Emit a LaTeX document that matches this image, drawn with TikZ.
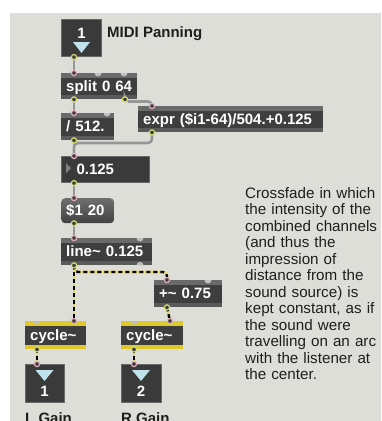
\documentclass[tikz,border=0pt]{standalone}
\usepackage{fontspec}
\setmainfont{Liberation Sans}
\usetikzlibrary{calc}

\definecolor{bg}{RGB}{222,222,217}
\definecolor{objbody}{RGB}{62,62,62}
\definecolor{striptop}{RGB}{106,106,106}
\definecolor{stripbot}{RGB}{90,90,90}
\definecolor{numbody}{RGB}{58,58,58}
\definecolor{numedge}{RGB}{104,104,104}
\definecolor{tricol}{RGB}{192,226,236}
\definecolor{cordcol}{RGB}{150,150,150}
\definecolor{sigyel}{RGB}{224,216,112}
\definecolor{cycyel}{RGB}{222,200,42}
\definecolor{inpink}{RGB}{226,176,192}
\definecolor{outgrn}{RGB}{212,222,112}
\definecolor{bumpcol}{RGB}{192,192,192}
\definecolor{msgtop}{RGB}{110,110,110}
\definecolor{msgbot}{RGB}{66,66,66}
\definecolor{labcol}{RGB}{30,30,30}

\newcommand{\objfont}{\fontsize{15}{17}\selectfont\bfseries}
\newcommand{\cmtfont}{\fontsize{15.2}{16.5}\selectfont}

\tikzset{
  objg/.style={fill=objbody, text=white, font=\objfont, anchor=north west,
    inner xsep=5pt, inner ysep=0pt, align=left, text height=12pt, text depth=2pt,
    path picture={
      \fill[striptop] (path picture bounding box.north west) rectangle ([yshift=-4.5pt]path picture bounding box.north east);
      \fill[stripbot] (path picture bounding box.south west) rectangle ([yshift=4pt]path picture bounding box.south east);}},
  objy/.style={fill=objbody, text=white, font=\objfont, anchor=north west,
    inner xsep=5pt, inner ysep=0pt, align=left, text height=12pt, text depth=2pt,
    path picture={
      \fill[cycyel] (path picture bounding box.north west) rectangle ([yshift=-4.5pt]path picture bounding box.north east);
      \fill[cycyel] (path picture bounding box.south west) rectangle ([yshift=4.5pt]path picture bounding box.south east);}},
  numbox/.style={fill=numbody, draw=numedge, line width=1.1pt, anchor=north west, inner sep=0pt},
  flobox/.style={fill=numbody, draw=numedge, line width=1.1pt, anchor=north west, text=white,
    font=\objfont, inner xsep=5pt, inner ysep=0pt, align=left, text height=12pt, text depth=2pt},
  msgbox/.style={rounded corners=4pt, top color=msgtop, bottom color=msgbot, text=white,
    font=\objfont, anchor=north west, inner xsep=5pt, inner ysep=0pt, align=left,
    text height=12pt, text depth=2pt},
  digit/.style={text=white, font=\objfont, inner sep=0pt},
  tri/.style={fill=tricol},
  lab/.style={text=labcol, font=\objfont, inner sep=0pt, anchor=base west},
  cmt/.style={text=labcol, font=\cmtfont, inner sep=0pt, anchor=north west, align=left, text width=134pt},
  cord/.style={draw=cordcol, line width=2.6pt, rounded corners=4pt},
  sig/.style={draw=black, line width=2.4pt, dash pattern=on 4pt off 3pt, rounded corners=4pt,
    preaction={draw=sigyel, line width=2.8pt, solid}},
  inring/.style={fill=objbody, draw=inpink, line width=1.2pt},
  outring/.style={fill=objbody, draw=outgrn, line width=1.2pt},
  bump/.style={fill=bumpcol}
}

\begin{document}
\begin{tikzpicture}[x=1pt,y=1pt]
\useasboundingbox (0,0) rectangle (381,-421);
\fill[white] (0,0) rectangle (381,-421);
\fill[bg] (10,-12.7) rectangle (381,-421);

% ---- boxes ----
\node[numbox, minimum width=40pt, minimum height=37pt] (numTop) at (61,-19) {};
\node[digit] (numTopv) at (81.5,-33) {1};
\fill[tri] (73,-42) -- (90,-42) -- (81.5,-53) -- cycle;

\node[lab] (title) at (107,-37.7) {MIDI Panning};

\node[objg, text width=66pt, minimum height=26pt] (split) at (61,-73) {split 0 64};
\node[objg, text width=43pt, minimum height=27pt] (div) at (61,-113) {/ 512.};
\node[objg, text width=175pt, minimum height=26pt] (expr) at (138,-106) {expr (\$i1-64)/504.+0.125};
\node[flobox, text width=78pt, minimum height=26pt] (flo) at (61,-156) {\hspace*{10pt}0.125};
\fill[gray] (66,-163) -- (66,-173) -- (71,-168) -- cycle;
\node[msgbox, text width=43pt, minimum height=25pt] (msg) at (61,-198) {\$1 20};
\node[objg, text width=81pt, minimum height=27pt] (line) at (61,-238) {line\textasciitilde{} 0.125};
\node[objg, text width=58pt, minimum height=27pt] (plus) at (154,-280) {+\textasciitilde{} 0.75};
\node[objy, text width=51pt, minimum height=28pt] (cycL) at (25,-321) {cycle\textasciitilde};
\node[objy, text width=52pt, minimum height=28pt] (cycR) at (121,-321) {cycle\textasciitilde};

\node[numbox, minimum width=39pt, minimum height=38pt] (numL) at (25,-364) {};
\fill[tri] (35.5,-370) -- (53.5,-370) -- (44.5,-381) -- cycle;
\node[digit] (numLv) at (44.5,-391) {1};
\node[numbox, minimum width=40pt, minimum height=38pt] (numR) at (121,-364) {};
\fill[tri] (132,-370) -- (150,-370) -- (141,-381) -- cycle;
\node[digit] (numRv) at (141,-391) {2};

\node[lab] (lgain) at (25,-423) {L Gain};
\node[lab] (rgain) at (121,-423) {R Gain};

\node[cmt] (comment) at (245,-187) {Crossfade in which\\the intensity of the\\combined channels\\(and thus the\\impression of\\distance from the\\sound source) is\\kept constant, as if\\the sound were\\travelling on an arc\\with the listener at\\the center.};

% ---- inlets / outlets ----
\coordinate (numTop-o0) at ($(numTop.south west)+(13,0)$);
\coordinate (split-i0) at ($(split.north west)+(13,0)$);
\coordinate (split-i1) at ($(split.north west)+(37,0)$);
\coordinate (split-i2) at ($(split.north west)+(63,0)$);
\coordinate (split-o0) at ($(split.south west)+(13,0)$);
\coordinate (split-o1) at ($(split.south west)+(64,0)$);
\coordinate (div-i0) at ($(div.north west)+(13,0)$);
\coordinate (div-i1) at ($(div.north west)+(46,0)$);
\coordinate (div-o0) at ($(div.south west)+(13,0)$);
\coordinate (expr-i0) at ($(expr.north west)+(14,0)$);
\coordinate (expr-o0) at ($(expr.south west)+(14,0)$);
\coordinate (flo-i0) at ($(flo.north west)+(13,0)$);
\coordinate (flo-o0) at ($(flo.south west)+(13,0)$);
\coordinate (msg-i0) at ($(msg.north west)+(13,0)$);
\coordinate (msg-o0) at ($(msg.south west)+(13,0)$);
\coordinate (line-i0) at ($(line.north west)+(13,0)$);
\coordinate (line-i1) at ($(line.north west)+(79,0)$);
\coordinate (line-o0) at ($(line.south west)+(13,0)$);
\coordinate (line-o1) at ($(line.south west)+(79,0)$);
\coordinate (plus-i0) at ($(plus.north west)+(13,0)$);
\coordinate (plus-i1) at ($(plus.north west)+(54,0)$);
\coordinate (plus-o0) at ($(plus.south west)+(13,0)$);
\coordinate (cycL-i0) at ($(cycL.north west)+(12,0)$);
\coordinate (cycL-i1) at ($(cycL.north west)+(49,0)$);
\coordinate (cycL-o0) at ($(cycL.south west)+(12,0)$);
\coordinate (cycR-i0) at ($(cycR.north west)+(13,0)$);
\coordinate (cycR-i1) at ($(cycR.north west)+(49,0)$);
\coordinate (cycR-o0) at ($(cycR.south west)+(13,0)$);
\coordinate (numL-i0) at ($(numL.north west)+(12,0)$);
\coordinate (numR-i0) at ($(numR.north west)+(13,0)$);

% unconnected inlets / outlets
\foreach \p in {split-i1,split-i2,div-i1,line-i1,plus-i1,cycL-i0,cycR-i0}
  \fill[bump] ([xshift=-3.5pt]\p) arc[start angle=180,end angle=360,radius=3.5pt] -- cycle;
\foreach \p in {line-o1}
  \fill[bump] ([xshift=-3.5pt]\p) arc[start angle=180,end angle=0,radius=3.5pt] -- cycle;

% ---- control cords ----
\draw[cord] (numTop-o0) -- (split-i0);
\draw[cord] (split-o0) -- (div-i0);
\draw[cord] (split-o1) |- ($(expr-i0)+(0,4.5)$) -- (expr-i0);
\draw[cord] (div-o0) -- (flo-i0);
\draw[cord] (expr-o0) |- ($(flo-i0)+(0,13)$) -- (flo-i0);
\draw[cord] (flo-o0) -- (msg-i0);
\draw[cord] (msg-o0) -- (line-i0);

% ---- signal cords ----
\draw[sig] (line-o0) -- (cycL-i1);
\draw[sig] (line-o0) |- ($(plus-i0)+(0,8)$) -- (plus-i0);
\draw[sig] (plus-o0) -- (cycR-i1);
\draw[sig] (cycL-o0) -- (numL-i0);
\draw[sig] (cycR-o0) -- (numR-i0);

% ---- rings ----
\foreach \p in {split-i0,div-i0,expr-i0,flo-i0,msg-i0,line-i0,plus-i0,cycL-i1,cycR-i1,numL-i0,numR-i0}
  \draw[inring] (\p) circle (2.6pt);
\foreach \p in {numTop-o0,split-o0,split-o1,div-o0,expr-o0,flo-o0,msg-o0,line-o0,plus-o0,cycL-o0,cycR-o0}
  \draw[outring] (\p) circle (2.6pt);
\end{tikzpicture}
\end{document}
